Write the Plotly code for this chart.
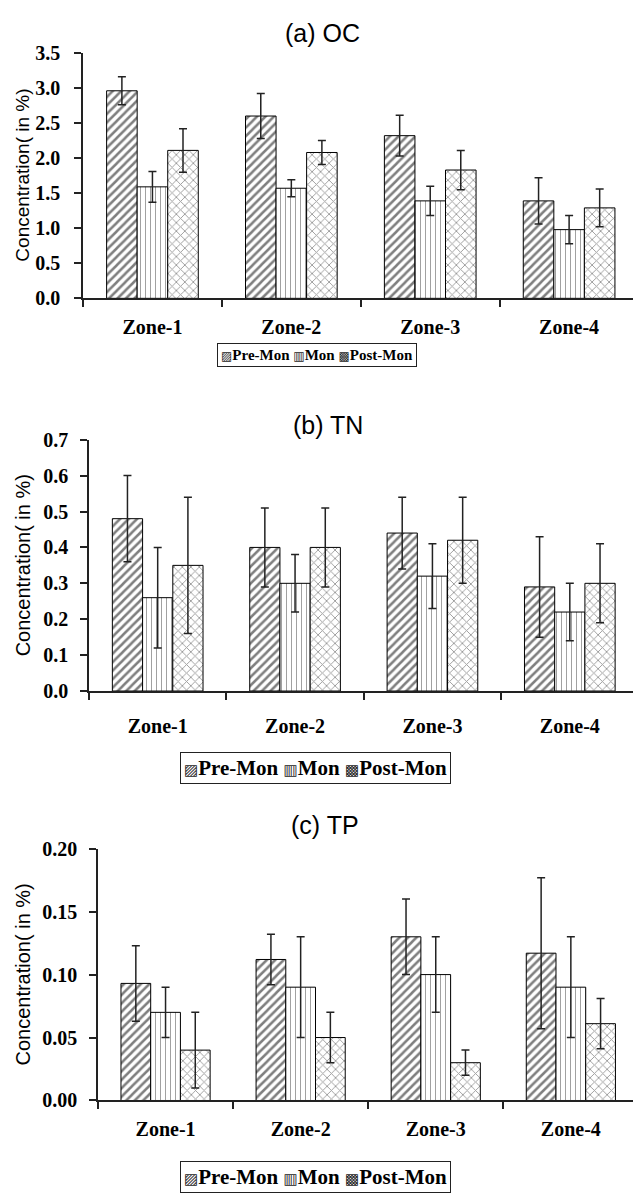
import plotly.graph_objects as go

W, H = 633, 1202

zones = ["Zone-1", "Zone-2", "Zone-3", "Zone-4"]
series_names = ["Pre-Mon", "Mon", "Post-Mon"]

# (a) OC
oc_pre = [2.96, 2.60, 2.32, 1.39]
oc_pre_err = [0.20, 0.32, 0.29, 0.33]
oc_mon = [1.59, 1.57, 1.39, 0.98]
oc_mon_err = [0.22, 0.12, 0.21, 0.20]
oc_post = [2.11, 2.08, 1.83, 1.29]
oc_post_err = [0.31, 0.17, 0.28, 0.27]

# (b) TN
tn_pre = [0.48, 0.40, 0.44, 0.29]
tn_pre_err = [0.12, 0.11, 0.10, 0.14]
tn_mon = [0.26, 0.30, 0.32, 0.22]
tn_mon_err = [0.14, 0.08, 0.09, 0.08]
tn_post = [0.35, 0.40, 0.42, 0.30]
tn_post_err = [0.19, 0.11, 0.12, 0.11]

# (c) TP
tp_pre = [0.093, 0.112, 0.130, 0.117]
tp_pre_err = [0.030, 0.020, 0.030, 0.060]
tp_mon = [0.070, 0.090, 0.100, 0.090]
tp_mon_err = [0.020, 0.040, 0.030, 0.040]
tp_post = [0.040, 0.050, 0.030, 0.061]
tp_post_err = [0.030, 0.020, 0.010, 0.020]

titles = ["(a) OC", "(b) TN", "(c) TP"]
y_title = "Concentration( in %)"


def legend_text(sym_size):
    s = ("<span style='font-family:DejaVu Sans, Noto Sans;font-weight:normal;"
         "color:#222222;font-size:%dpx'>%s</span>")
    return (s % (sym_size, "▨") + "Pre-Mon " +
            s % (sym_size, "▥") + "Mon " +
            s % (sym_size, "▩") + "Post-Mon")


patterns = [
    dict(shape="/", fgcolor="black", bgcolor="white", size=6, solidity=0.42),
    dict(shape="|", fgcolor="#444444", bgcolor="white", size=5, solidity=0.2),
    dict(shape="x", fgcolor="#333333", bgcolor="white", size=6, solidity=0.28),
]


def px_x(p):
    return p / W


def px_y(p):
    return 1 - p / H


panels = [
    dict(data=[(oc_pre, oc_pre_err), (oc_mon, oc_mon_err), (oc_post, oc_post_err)],
         left=83, top=42.7, bottom=292.7, rng=[0, 3.5], dtick=0.5, fmt=".1f",
         ystand=10, xstand=10, title_xy=(322, 22.5), ytitle_xy=(23, 167.7), ytitle_size=19,
         legend_xy=(317, 350), legend_size=15, sym=12),
    dict(data=[(tn_pre, tn_pre_err), (tn_mon, tn_mon_err), (tn_post, tn_post_err)],
         left=89, top=436.7, bottom=692.7, rng=[0, 0.7], dtick=0.1, fmt=".1f",
         ystand=8, xstand=16, title_xy=(328, 422), ytitle_xy=(23, 564.7), ytitle_size=20,
         legend_xy=(315.5, 771.5), legend_size=21, sym=15),
    dict(data=[(tp_pre, tp_pre_err), (tp_mon, tp_mon_err), (tp_post, tp_post_err)],
         left=98, top=853.3, bottom=1109.8, rng=[0, 0.2], dtick=0.05, fmt=".2f",
         ystand=8, xstand=10, title_xy=(325, 829), ytitle_xy=(23, 981.5), ytitle_size=20,
         legend_xy=(315.5, 1188), legend_size=21, sym=15),
]

fig = go.Figure()
annotations = []
layout_axes = {}
tick_font = dict(family="Liberation Serif", size=20, color="black", weight="bold")

for i, p in enumerate(panels):
    k = "" if i == 0 else str(i + 1)
    for j, (vals, errs) in enumerate(p["data"]):
        fig.add_trace(go.Bar(
            x=zones, y=vals, name=series_names[j],
            xaxis="x" + k, yaxis="y" + k,
            marker=dict(color="white", line=dict(color="black", width=1),
                        pattern=patterns[j]),
            error_y=dict(type="data", array=errs, visible=True,
                         color="#222222", thickness=1.5, width=4),
            showlegend=False, hoverinfo="skip",
        ))
    layout_axes["xaxis" + k] = dict(
        domain=[px_x(p["left"]), 1], anchor="y" + k,
        range=[-0.5, 3.46], type="category",
        showline=True, linecolor="#222222", linewidth=1.5,
        ticks="outside", tickson="boundaries", ticklen=7, tickcolor="#222222",
        tickwidth=1.5, ticklabelstandoff=p["xstand"],
        tickfont=tick_font,
        showgrid=False, zeroline=False, fixedrange=True,
    )
    layout_axes["yaxis" + k] = dict(
        domain=[px_y(p["bottom"]), px_y(p["top"])], anchor="x" + k,
        range=p["rng"], dtick=p["dtick"], tick0=0, tickformat=p["fmt"],
        showline=True, linecolor="#222222", linewidth=1.5,
        ticks="outside", ticklen=7, tickcolor="#222222", tickwidth=1.5,
        ticklabelstandoff=p["ystand"],
        tickfont=tick_font,
        showgrid=False, zeroline=False, fixedrange=True,
    )
    tx, ty = p["title_xy"]
    annotations.append(dict(
        text=titles[i], x=px_x(tx), y=px_y(ty), xref="paper", yref="paper",
        xanchor="center", yanchor="middle", showarrow=False,
        font=dict(family="Liberation Sans", size=25, color="black"),
    ))
    yx, yy = p["ytitle_xy"]
    annotations.append(dict(
        text=y_title, x=px_x(yx), y=px_y(yy), xref="paper", yref="paper",
        xanchor="center", yanchor="middle", showarrow=False, textangle=-90,
        font=dict(family="Liberation Sans", size=p["ytitle_size"], color="black"),
    ))
    lx, ly = p["legend_xy"]
    annotations.append(dict(
        text=legend_text(p["sym"]), x=px_x(lx), y=px_y(ly), xref="paper", yref="paper",
        xanchor="center", yanchor="middle", showarrow=False,
        bordercolor="#222222", borderwidth=1, borderpad=3, bgcolor="white",
        font=dict(family="Liberation Serif", size=p["legend_size"], color="black",
                  weight="bold"),
    ))

fig.update_layout(
    width=W, height=H, autosize=False,
    margin=dict(l=0, r=0, t=0, b=0),
    paper_bgcolor="white", plot_bgcolor="white",
    barmode="group", bargap=0.34, bargroupgap=0,
    annotations=annotations,
    hovermode=False,
    **layout_axes,
)

post = """
document.documentElement.style.margin='0';
document.documentElement.style.padding='0';
document.documentElement.style.overflow='hidden';
document.documentElement.style.height='1202px';
document.body.style.margin='0';
document.body.style.padding='0';
document.body.style.overflow='hidden';
document.body.style.height='1202px';
var gd = document.querySelector('.plotly-graph-div');
gd.style.position='fixed'; gd.style.top='0px'; gd.style.left='0px';
"""

fig.write_html("out.html", config={"displayModeBar": False}, post_script=post)
